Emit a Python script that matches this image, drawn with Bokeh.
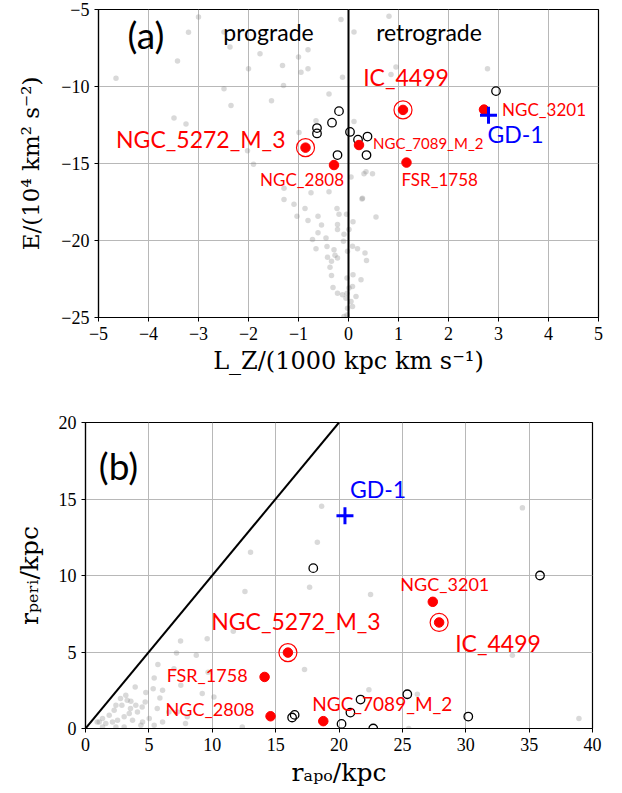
from bokeh.plotting import figure
from bokeh.models import FixedTicker, CustomJSTickFormatter, Span, Label
from bokeh.core.properties import value
from bokeh.embed import file_html
from bokeh.resources import INLINE

# ---------------- data ----------------
# panel (a): background globular clusters (grey)
lz_bg = [-4.65, -3.42, -3.2, -3.0, -2.49, -2.37, -2.49, -2.35, -2.0, -1.77, -1.54, -1.32, -1.3, -1.0,
         -0.95, -0.81, -0.81, -0.15, -0.12, -0.39, -3.49, -3.25, -0.65, -0.99,
         0.11, 0.81, 0.95, 0.85, 2.78, 0.11,
         -2.02, -1.9, -1.29, -1.29, -1.09, -1.03, -0.87, -0.81, -0.75, -0.61, -0.54, -0.61, -0.39, -0.23,
         -0.19, -0.22, -0.22, -0.72, -0.65, -0.45, -0.43, -0.29, -0.27, -0.42, -0.34, -0.22, -0.37, -0.34,
         -0.31, -0.22, -0.12, -0.05, -0.02, -0.09, -0.02, -0.09, -0.04,
         0.05, 0.31, 0.35, 0.48, 0.28, 0.27, 0.55, 0.09, 0.01, 0.08, 0.18, 0.33, 0.36, -0.1, 0.09, 0.25,
         -0.03, 0.01, 0.08, -0.03, 0.15, 0.08, -0.03, 0.05]
e_bg = [-9.46, -8.35, -6.48, -5.48, -6.46, -7.44, -10.15, -11.24, -8.85, -7.87, -10.92, -8.63, -9.94, -8.09,
        -9.07, -7.61, -8.85, -5.65, -9.4, -10.48, -12.05, -12.44, -12.22, -12.98,
        -6.46, -5.44, -8.74, -9.22, -8.85, -12.27,
        -14.18, -15.05, -16.61, -17.33, -17.65, -18.42, -17.92, -18.7, -16.9, -18.42, -19.0, -19.5, -16.83, -17.92,
        -18.3, -18.96, -19.29, -19.94, -20.53, -19.83, -20.39, -20.6, -20.96, -21.09, -21.35, -21.14, -21.74, -22.27,
        -23.05, -23.42, -23.53, -23.75, -24.4, -24.94, -20.7, -19.6, -18.3,
        -15.87, -15.66, -15.53, -15.66, -17.26, -17.3, -18.48, -18.79, -19.29, -20.37, -20.53, -20.81, -21.3, -20.05, -22.22, -22.55,
        -22.44, -23.09, -22.98, -23.42, -23.64, -24.29, -24.83, -23.96]

# panel (a): other stream progenitor candidates (open circles)
lz_open = [-0.63, -0.63, -0.33, -0.19, 0.03, 0.19, 0.38, 0.36, -0.22, 2.95]
e_open = [-12.7, -13.05, -12.35, -11.6, -12.95, -13.45, -13.25, -14.45, -14.45, -10.3]

# named clusters
names = ["NGC_5272_M_3", "NGC_2808", "IC_4499", "NGC_3201", "NGC_7089_M_2", "FSR_1758"]
lz_named = [-0.86, -0.29, 1.09, 2.71, 0.21, 1.16]
e_named = [-13.97, -15.1, -11.52, -11.5, -13.8, -14.94]
ringed = ["NGC_5272_M_3", "IC_4499"]

gd1_lz = [2.8]
gd1_e = [-11.86]

# panel (b)
rapo_bg = [12.58, 11.66, 9.60, 7.50, 7.18, 8.74, 5.71, 9.67, 6.98, 5.42, 3.92, 5.34, 6.08, 5.87, 4.76, 4.71,
           3.18, 3.58, 3.97, 4.10, 2.87, 2.40, 2.26, 1.87, 1.34, 1.08, 1.60, 2.13, 2.53, 3.05, 3.45, 3.71,
           4.50, 5.03, 5.42, 6.08, 4.37, 3.05, 2.40, 1.34, 7.52, 9.21, 10.13, 6.58, 7.24, 8.03, 7.89, 5.66,
           4.47, 12.37, 0.92, 3.55, 3.29, 2.76,
           18.63, 34.47, 18.29, 13.02, 17.68, 22.49, 33.68, 17.28, 22.36, 26.18, 38.93, 25.50]
rperi_bg = [8.96, 6.35, 5.87, 5.72, 4.93, 4.78, 4.19, 3.67, 3.91, 3.30, 2.71, 2.60, 2.50, 2.00, 2.35, 1.74,
            2.17, 1.78, 1.52, 1.08, 1.52, 1.52, 1.19, 0.87, 0.65, 0.43, 0.33, 0.43, 0.54, 0.76, 0.98, 0.54,
            0.43, 0.65, 0.22, 0.43, 0.22, 0.10, 0.10, 0.10, 2.82, 2.28, 2.06, 1.08, 1.08, 0.76, 0.33, 1.30,
            1.41, 0.10, 0.43, 1.30, 1.85, 1.96,
            14.52, 14.42, 12.17, 11.52, 9.24, 8.76, 4.78, 3.85, 2.54, 2.24, 0.65, 0.00]

rapo_open = [17.97, 35.86, 25.39, 21.7, 20.9, 16.5, 16.3, 20.2, 22.7, 30.2]
rperi_open = [10.48, 10.0, 2.24, 1.89, 1.04, 0.89, 0.72, 0.3, 0.0, 0.78]

rapo_named = [15.97, 14.6, 27.9, 27.4, 18.76, 14.13]
rperi_named = [4.96, 0.8, 6.93, 8.28, 0.48, 3.37]

gd1_rapo = [20.47]
gd1_rperi = [13.9]

diag = [0, 20]

# ---------------- styling ----------------
SANS = "Lato"
SERIF = "Liberation Serif"
LAB = "DejaVu Serif"
RED = "#ff0000"
BLUE = "#0000ff"

minus_fmt = CustomJSTickFormatter(code="return tick < 0 ? '\u2212' + Math.abs(tick) : String(tick);")


def style(p, xticks, yticks, xlabel, ylabel, ystand, xsize, ysize):
    p.xaxis.ticker = FixedTicker(ticks=xticks)
    p.yaxis.ticker = FixedTicker(ticks=yticks)
    p.xaxis.formatter = minus_fmt
    p.yaxis.formatter = minus_fmt
    for ax in (p.xaxis, p.yaxis):
        ax.major_label_text_font = SERIF
        ax.major_label_text_font_size = "18px"
        ax.major_label_text_color = "black"
        ax.axis_label_text_font = LAB
        ax.axis_label_text_font_style = "normal"
        ax.axis_label_text_color = "black"
        ax.minor_tick_line_color = None
        ax.major_tick_in = 0
        ax.major_tick_out = 4
        ax.major_tick_line_color = "black"
        ax.axis_line_color = "black"
        ax.axis_line_width = 1.2
    p.xaxis.axis_label_text_font_size = xsize
    p.yaxis.axis_label_text_font_size = ysize
    p.xaxis.axis_label = xlabel
    p.yaxis.axis_label = ylabel
    p.yaxis.axis_label_standoff = ystand
    p.xaxis.axis_label_standoff = 4
    p.grid.grid_line_color = "#b8b8b8"
    p.grid.grid_line_width = 1
    p.outline_line_color = "black"
    p.outline_line_width = 1.2
    p.outline_line_alpha = 1


def label(p, x, y, txt, size, color, align, dx, dy, font=SANS):
    p.text(x=[x], y=[y], text=[txt], text_font=value(font), text_font_size=f"{size}px",
           text_color=color, text_align=align, text_baseline="middle", x_offset=dx, y_offset=dy)


# ---------------- panel (a) ----------------
pa = figure(frame_width=500, frame_height=308, x_range=(-5, 5), y_range=(-25, -5),
            output_backend="svg", toolbar_location=None,
            min_border_left=98, min_border_right=18, min_border_top=9, min_border_bottom=80)
style(pa, list(range(-5, 6)), [-25, -20, -15, -10, -5],
      "L_Z/(1000 kpc km s\u207b\u00b9)", "E/(10\u2074 km\u00b2 s\u207b\u00b2)", 14, "24px", "23px")
pa.add_layout(Span(location=0, dimension="height", line_color="black", line_width=2))

pa.scatter(lz_bg, e_bg, size=5.5, color="gray", alpha=0.3, line_color=None)
pa.scatter(lz_open, e_open, size=8.5, fill_color=None, line_color="black", line_width=1.3)
pa.scatter(lz_named, e_named, size=9.5, color=RED)
ring_a = [(x, y) for n, x, y in zip(names, lz_named, e_named) if n in ringed]
pa.scatter([r[0] for r in ring_a], [r[1] for r in ring_a], size=18, fill_color=None,
           line_color=RED, line_width=1.2)
pa.scatter(gd1_lz, gd1_e, marker="cross", size=17, line_color=BLUE, line_width=3)

offs_a = {
    "NGC_5272_M_3": (23, "right", -20, -9),
    "NGC_2808": (17, "right", 10, 14),
    "IC_4499": (23, "center", 3, -33),
    "NGC_3201": (17, "left", 18, 0),
    "NGC_7089_M_2": (15, "left", 14, -2),
    "FSR_1758": (17, "left", -5, 17),
}
for n, x, y in zip(names, lz_named, e_named):
    s, al, dx, dy = offs_a[n]
    label(pa, x, y, n, s, RED, al, dx, dy)
label(pa, gd1_lz[0], gd1_e[0], "GD-1", 23, BLUE, "left", -1, 19)

pa.add_layout(Label(x=-4.05, y=-6.6, text="(a)", text_font=SANS, text_font_size="37px",
                    text_align="center", text_baseline="middle", text_color="black"))
pa.add_layout(Label(x=-1.6, y=-6.46, text="prograde", text_font=SANS, text_font_size="23px",
                    text_align="center", text_baseline="middle", text_color="black"))
pa.add_layout(Label(x=1.61, y=-6.46, text="retrograde", text_font=SANS, text_font_size="23px",
                    text_align="center", text_baseline="middle", text_color="black"))

# ---------------- panel (b) ----------------
pb = figure(frame_width=507, frame_height=306, x_range=(0, 40), y_range=(0, 20),
            output_backend="svg", toolbar_location=None,
            min_border_left=85, min_border_right=24, min_border_top=25, min_border_bottom=58)
style(pb, list(range(0, 41, 5)), [0, 5, 10, 15, 20],
      "r\u2090\u209a\u2092/kpc", "r\u209a\u2091\u1d63\u1d62/kpc", 12, "25px", "25px")

pb.line(diag, diag, line_color="black", line_width=2)
pb.scatter(rapo_bg, rperi_bg, size=5.5, color="gray", alpha=0.3, line_color=None)
pb.scatter(rapo_open, rperi_open, size=8.5, fill_color=None, line_color="black", line_width=1.3)
pb.scatter(rapo_named, rperi_named, size=9.5, color=RED)
ring_b = [(x, y) for n, x, y in zip(names, rapo_named, rperi_named) if n in ringed]
pb.scatter([r[0] for r in ring_b], [r[1] for r in ring_b], size=18, fill_color=None,
           line_color=RED, line_width=1.2)
pb.scatter(gd1_rapo, gd1_rperi, marker="cross", size=17, line_color=BLUE, line_width=3)

offs_b = {
    "NGC_5272_M_3": (23, "center", 8, -32),
    "NGC_2808": (18, "right", -16, -7),
    "IC_4499": (23, "left", 16, 21),
    "NGC_3201": (18, "center", 12, -18),
    "NGC_7089_M_2": (19, "left", -11, -18),
    "FSR_1758": (18, "right", -17, -2),
}
for n, x, y in zip(names, rapo_named, rperi_named):
    s, al, dx, dy = offs_b[n]
    label(pb, x, y, n, s, RED, al, dx, dy)
label(pb, gd1_rapo[0], gd1_rperi[0], "GD-1", 23, BLUE, "left", 5, -27)

pb.add_layout(Label(x=2.6, y=17.2, text="(b)", text_font=SANS, text_font_size="37px",
                    text_align="center", text_baseline="middle", text_color="black"))

open("out.html", "w").write(file_html([pa, pb], INLINE))
